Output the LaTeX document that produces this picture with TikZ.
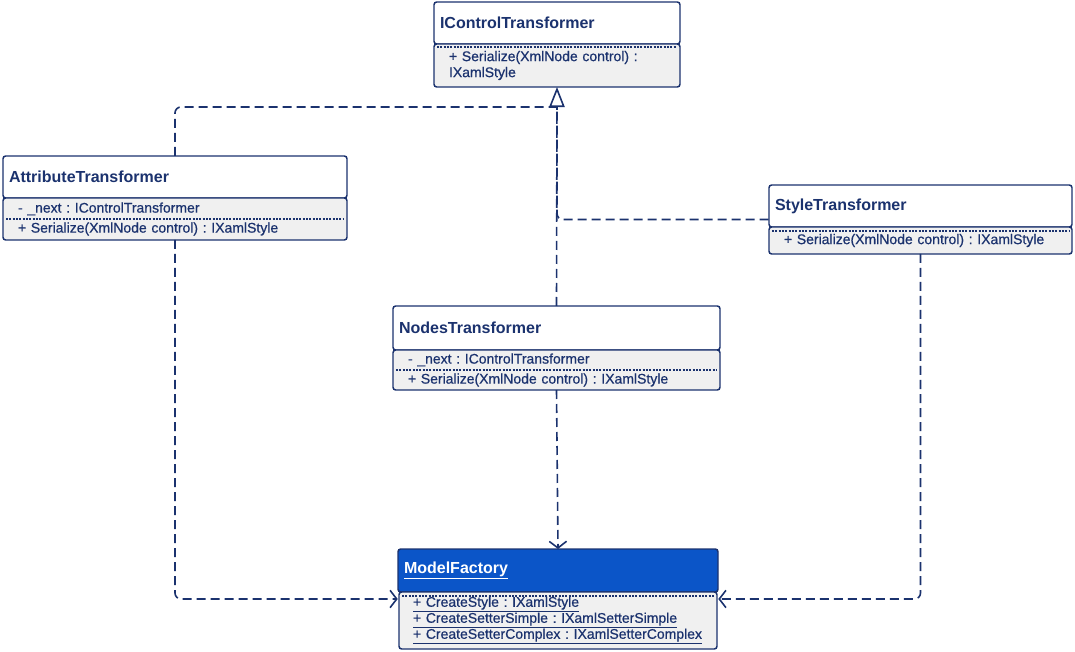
\documentclass[tikz,border=0pt]{standalone}
\usepackage{fontspec}
\setmainfont{Liberation Sans}
\newfontfamily\bodyfont[FakeBold=0.6]{Liberation Sans}
\frenchspacing
\usetikzlibrary{arrows.meta,positioning,fit}
\newdimen\px \px=0.75pt
\definecolor{navy}{RGB}{27,50,110}
\definecolor{factory}{RGB}{11,85,200}
\definecolor{shade}{RGB}{240,240,240}

\begin{document}
\begin{tikzpicture}[x=\px,y=-\px,
head/.style={draw=navy,fill=white,line width=1.1pt,rounded corners=2pt,outer sep=0pt,
  anchor=north west,inner xsep=6\px,inner ysep=0pt,minimum height=42\px,text width=#1\px,
  align=left,text=navy,font=\fontsize{12}{14}\selectfont\bfseries},
body/.style={draw=navy,fill=shade,line width=1.1pt,rounded corners=2pt,outer sep=0pt,
  inner xsep=15\px,inner ysep=0pt,text width=#1\px,align=left,text=navy,
  font=\bodyfont\fontsize{10.5}{12}\selectfont},
sep/.style={navy,dash pattern=on 1.5pt off 1pt,line width=0.8pt},
impl/.style={navy,line width=1.2pt,dash pattern=on 6.75pt off 3.75pt,rounded corners=4.5pt},
dep/.style={impl,-{Straight Barb[length=5pt,width=13pt,line width=1.2pt]}},
real/.style={impl,-{Triangle[open,length=15pt,width=11.5pt,fill=white]}}]
\useasboundingbox (0,0) rectangle (1075,652);
\node[head=234] (ict) at (434,2) {IControlTransformer};
\node[body=216,minimum height=43\px,below=0pt of ict] (ictb) {+ Serialize(XmlNode control) :\\IXamlStyle};
\node[head=332] (at) at (3,156) {AttributeTransformer};
\node[body=314,minimum height=42\px,below=0pt of at] (atb) {- \_next : IControlTransformer\\[3pt]+ Serialize(XmlNode control) : IXamlStyle};
\node[head=291] (st) at (769,185) {StyleTransformer};
\node[body=273,minimum height=27\px,below=0pt of st] (stb) {+ Serialize(XmlNode control) : IXamlStyle};
\node[head=315,minimum height=44\px] (nt) at (393,306) {NodesTransformer};
\node[body=297,minimum height=40\px,below=0pt of nt] (ntb) {- \_next : IControlTransformer\\[3pt]+ Serialize(XmlNode control) : IXamlStyle};
\node[head=308,minimum height=43\px,fill=factory,text=white] (mf) at (398,549) {\underline{ModelFactory}};
\node[body=290,inner xsep=14\px,minimum height=57\px,below=0pt of mf] (mfb) {\underline{+ CreateStyle : IXamlStyle}\\\underline{+ CreateSetterSimple : IXamlSetterSimple}\\\underline{+ CreateSetterComplex : IXamlSetterComplex}};
\node[fit=(st)(stb),inner sep=0pt] (stall) {};
\node[fit=(mf)(mfb),inner sep=0pt] (mfall) {};
\draw[sep] ([shift={(3,3)}]ictb.north west) -- ([shift={(-3,3)}]ictb.north east);
\draw[sep] ([xshift=3\px]atb.west) -- ([xshift=-3\px]atb.east);
\draw[sep] ([shift={(3,4)}]stb.north west) -- ([shift={(-3,4)}]stb.north east);
\draw[sep] ([xshift=3\px]ntb.west) -- ([xshift=-3\px]ntb.east);
\draw[sep] ([shift={(3,4)}]mfb.north west) -- ([shift={(-3,4)}]mfb.north east);
\coordinate (tri) at ([yshift=-20\px]ictb.south);
\draw[real] (nt.north) -- (ictb.south);
\draw[impl] (at.north) |- (tri);
\draw[impl] (stall.west) -| (tri);
\draw[dep] (atb.south) |- (mfall.west);
\draw[dep] (ntb.south) -- (mf.north);
\draw[dep] (stb.south) |- (mfall.east);
\end{tikzpicture}
\end{document}
